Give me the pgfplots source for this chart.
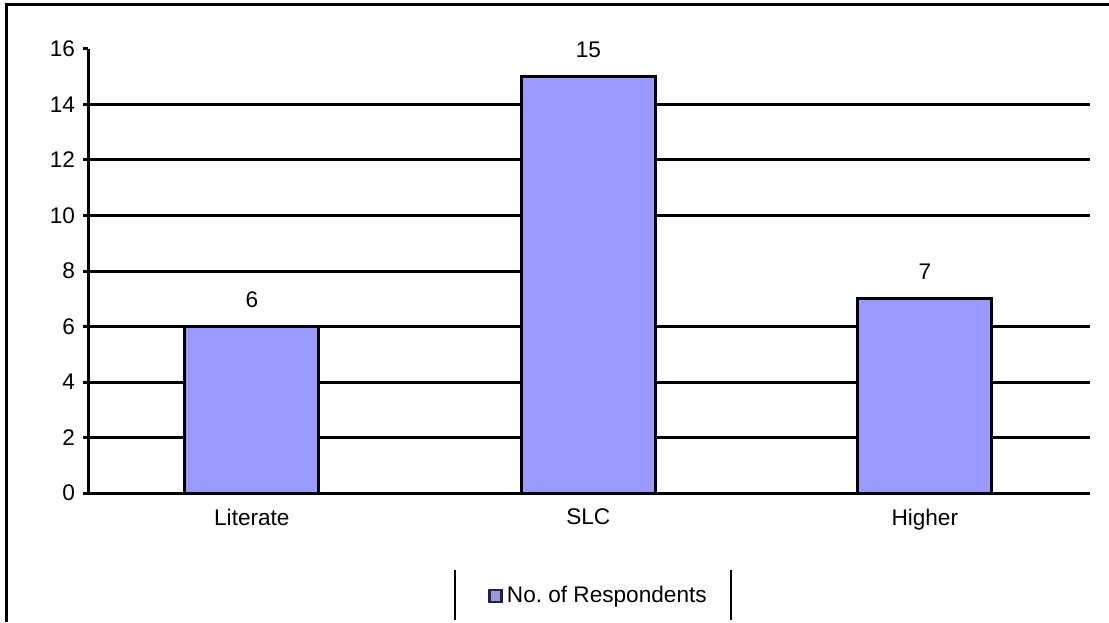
\documentclass[border=0pt]{standalone}
\usepackage{fontspec}
\setmainfont{Liberation Sans}
\usepackage{pgfplots}
\pgfplotsset{compat=1.18}
\definecolor{barfill}{HTML}{9999FF}
\definecolor{legedge}{HTML}{22224A}
\definecolor{legfill}{HTML}{9A9AD8}
\newcommand{\chartfont}{\fontsize{11.3}{13}\selectfont}
\frenchspacing
\begin{document}
\begin{tikzpicture}[font=\chartfont]
\useasboundingbox (0,0) rectangle (554.5pt,311pt);
\draw[line width=1.5pt] (3pt,0) -- (3pt,308.5pt) -- (554.5pt,308.5pt);
\begin{axis}[
  at={(44pt,64.5pt)}, anchor=south west,
  scale only axis, width=501pt, height=222pt,
  xmin=-0.487, xmax=2.491, ymin=0, ymax=16,
  axis lines*=left,
  axis line style={line width=1.5pt, black},
  ytick={0,2,...,16},
  extra y ticks={2,4,6,10,12,14},
  extra y tick labels={},
  extra y tick style={grid=major},
  major grid style={line width=1.5pt, black},
  y tick style={line width=1.5pt, black},
  tick align=outside, major tick length=2.5pt,
  tick label style={font=\chartfont},
  yticklabel style={xshift=-0.5pt},
  xtick=data, xticklabels={Literate,SLC,Higher},
  x tick style={draw=none},
  xticklabel style={yshift=-2pt},
  /pgf/number format/assume math mode=true,
  ybar, bar width=67pt,
  nodes near coords,
  nodes near coords style={anchor=center, yshift=13.5pt, font=\chartfont},
  legend style={draw=none, fill=none, at={(0.5105,-0.232)}, anchor=center, font=\chartfont},
  legend image code/.code={\draw[fill=legfill, draw=legedge, line width=1.3pt] (0pt,-3pt) rectangle (6pt,3pt);},
]
\draw[line width=1.5pt, black] (axis cs:-0.487,8) -- (axis cs:0.9,8);
\addplot[fill=barfill, draw=black, line width=1.5pt] coordinates {(0,6) (1,15) (2,7)};
\addlegendentry{No.\ of Respondents}
\end{axis}
\draw[line width=1pt] (227.5pt,1pt) -- (227.5pt,26pt);
\draw[line width=1pt] (365.5pt,1pt) -- (365.5pt,26pt);
\end{tikzpicture}
\end{document}
